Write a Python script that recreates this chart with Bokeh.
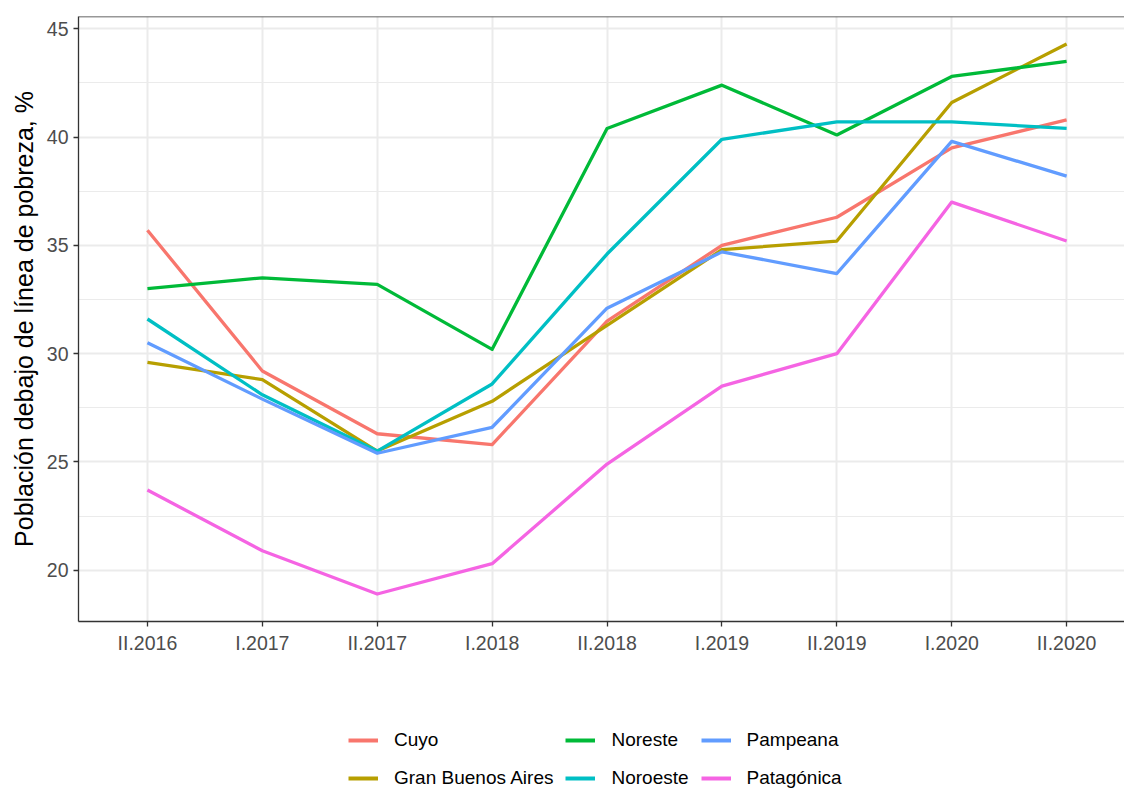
from bokeh.plotting import figure
from bokeh.layouts import column
from bokeh.models import (Range1d, FixedTicker, Legend, LegendItem, Span)
from bokeh.embed import file_html
from bokeh.resources import INLINE

periods = ["II.2016", "I.2017", "II.2017", "I.2018", "II.2018",
           "I.2019", "II.2019", "I.2020", "II.2020"]
regions = ["Cuyo", "Gran Buenos Aires", "Noreste", "Noroeste", "Pampeana", "Patagónica"]
cuyo = [35.7, 29.2, 26.3, 25.8, 31.5, 35.0, 36.3, 39.5, 40.8]
gran_buenos_aires = [29.6, 28.8, 25.5, 27.8, 31.3, 34.8, 35.2, 41.6, 44.3]
noreste = [33.0, 33.5, 33.2, 30.2, 40.4, 42.4, 40.1, 42.8, 43.5]
noroeste = [31.6, 28.1, 25.5, 28.6, 34.6, 39.9, 40.7, 40.7, 40.4]
pampeana = [30.5, 27.9, 25.4, 26.6, 32.1, 34.7, 33.7, 39.8, 38.2]
patagonica = [23.7, 20.9, 18.9, 20.3, 24.9, 28.5, 30.0, 37.0, 35.2]
series = [cuyo, gran_buenos_aires, noreste, noroeste, pampeana, patagonica]
colors = ["#F8766D", "#B79F00", "#00BA38", "#00BFC4", "#619CFF", "#F564E3"]

y_ticks = [20, 25, 30, 35, 40, 45]
y_minor = [17.5, 22.5, 27.5, 32.5, 37.5, 42.5]

FONT = "Liberation Sans"

allv = [v for s in series for v in s]
lo, hi = min(allv), max(allv)
pad = (hi - lo) * 0.05
x = list(range(len(periods)))

p = figure(width=1124, height=700, output_backend="svg", toolbar_location=None,
           x_range=Range1d(-0.6, -0.6 + 1046 / 114.9),
           y_range=Range1d(lo - pad, hi + pad),
           min_border_left=78, min_border_right=0, min_border_top=16,
           min_border_bottom=79)
p.outline_line_color = None
p.background_fill_color = "white"
p.border_fill_color = "white"

# axes
p.xaxis.ticker = FixedTicker(ticks=x)
p.xaxis.major_label_overrides = {i: lab for i, lab in enumerate(periods)}
p.yaxis.ticker = FixedTicker(ticks=y_ticks, minor_ticks=y_minor)
for ax in (p.xaxis[0], p.yaxis[0]):
    ax.axis_line_color = "#333333"
    ax.axis_line_width = 1.3
    ax.major_tick_line_color = "#333333"
    ax.major_tick_line_width = 1.3
    ax.major_tick_out = 5
    ax.major_tick_in = 0
    ax.minor_tick_line_color = None
    ax.major_label_text_font = FONT
    ax.major_label_text_font_size = "19.5px"
    ax.major_label_text_color = "#4D4D4D"
    ax.major_label_standoff = 5
p.yaxis.axis_label = "Población debajo de línea de pobreza, %"
p.yaxis.axis_label_text_font = FONT
p.yaxis.axis_label_text_font_size = "25px"
p.yaxis.axis_label_text_font_style = "normal"
p.yaxis.axis_label_text_color = "black"
p.yaxis.axis_label_standoff = 6

# grids
p.xgrid.grid_line_color = "#EBEBEB"
p.xgrid.grid_line_width = 2
p.ygrid.grid_line_color = "#EBEBEB"
p.ygrid.grid_line_width = 2
p.ygrid.minor_grid_line_color = "#EBEBEB"
p.ygrid.minor_grid_line_width = 1.2

# top border
p.add_layout(Span(location=hi + pad, dimension="width",
                  line_color="#333333", line_width=1.3))

for name, vals, col in zip(regions, series, colors):
    p.line(x, vals, line_color=col, line_width=3.3, line_join="round")

# legend panel (separate figure below the chart)
lf = figure(width=1124, height=89, output_backend="svg", toolbar_location=None,
            x_range=Range1d(100, 101), y_range=Range1d(100, 101),
            min_border_left=0, min_border_right=0, min_border_top=0,
            min_border_bottom=0)
lf.outline_line_color = None
lf.xaxis.visible = False
lf.yaxis.visible = False
lf.xgrid.visible = False
lf.ygrid.visible = False
items = []
for name, vals, col in zip(regions, series, colors):
    r = lf.line(x, vals, line_color=col, line_width=4)
    items.append(LegendItem(label=name, renderers=[r]))

legend = Legend(items=items, location=(270, -2), orientation="vertical",
                nrows=2, glyph_width=30, glyph_height=26, label_height=26,
                label_standoff=16, spacing=12, padding=0, margin=0,
                border_line_color=None, background_fill_alpha=0,
                label_text_font=FONT, label_text_font_size="19px",
                label_text_color="black")
lf.add_layout(legend, "center")

layout = column(p, lf, spacing=0)
open("out.html", "w").write(file_html(layout, INLINE))
